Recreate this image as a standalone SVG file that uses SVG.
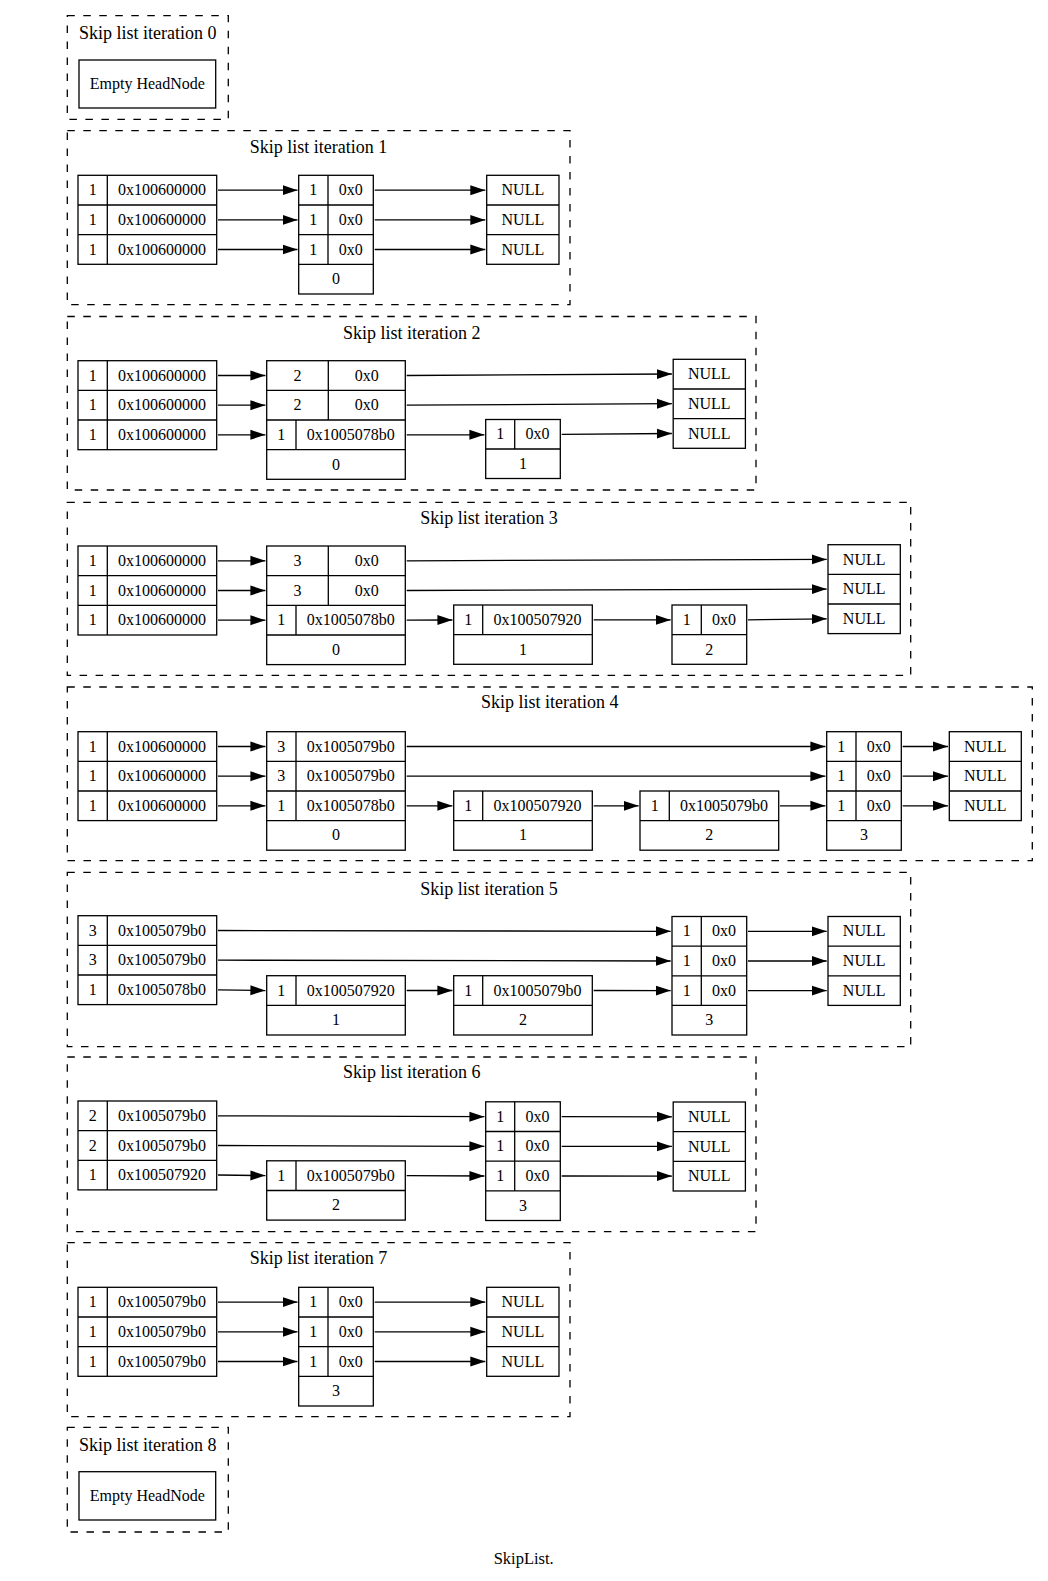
<svg xmlns="http://www.w3.org/2000/svg" width="1048" height="1581" viewBox="0 0 1048 1581">
<style>
.c{fill:none;stroke:#000;stroke-width:1.3;stroke-dasharray:7.5,8.5}
.b{fill:#fff;stroke:#000;stroke-width:1.3}
.s{fill:none;stroke:#000;stroke-width:1.3}
text{font-family:"Liberation Serif","Times New Roman",serif;font-size:16px;text-anchor:middle;fill:#000}
.l{font-size:18px}
.e{fill:none;stroke:#000;stroke-width:1.3;marker-end:url(#ah)}
</style>
<defs>
<marker id="ah" markerUnits="userSpaceOnUse" markerWidth="16" markerHeight="11" refX="15" refY="5.5" orient="auto" viewBox="0 0 16 11"><path d="M0,0.5L15,5.5L0,10.5Z" fill="#000"/></marker>
</defs>
<rect width="1048" height="1581" fill="#fff"/>

<!-- Clusters -->
<g id="cluster0"><rect class="c" x="67.3" y="15.7" width="161" height="103.6"/><text class="l" x="147.8" y="39.3">Skip list iteration 0</text></g>
<g id="cluster1"><rect class="c" x="67.3" y="130.7" width="502.7" height="174"/><text class="l" x="318.6" y="152.7">Skip list iteration 1</text></g>
<g id="cluster2"><rect class="c" x="67.3" y="316.5" width="688.7" height="173.5"/><text class="l" x="411.7" y="338.5">Skip list iteration 2</text></g>
<g id="cluster3"><rect class="c" x="67.3" y="502.3" width="843.4" height="173"/><text class="l" x="489" y="524.3">Skip list iteration 3</text></g>
<g id="cluster4"><rect class="c" x="67.3" y="687" width="965" height="173.7"/><text class="l" x="549.8" y="708.3">Skip list iteration 4</text></g>
<g id="cluster5"><rect class="c" x="67.3" y="872.3" width="843.4" height="174.4"/><text class="l" x="489" y="895">Skip list iteration 5</text></g>
<g id="cluster6"><rect class="c" x="67.3" y="1057" width="688.7" height="174.7"/><text class="l" x="411.7" y="1078.3">Skip list iteration 6</text></g>
<g id="cluster7"><rect class="c" x="67.3" y="1242.7" width="502.7" height="174"/><text class="l" x="318.6" y="1264.3">Skip list iteration 7</text></g>
<g id="cluster8"><rect class="c" x="67.3" y="1427.3" width="161" height="104.7"/><text class="l" x="147.8" y="1450.7">Skip list iteration 8</text></g>

<!-- Iteration 0 -->
<g id="it0_head"><rect class="b" x="79" y="60" width="136.7" height="48"/><text x="147.3" y="89">Empty HeadNode</text></g>

<!-- Iteration 1 -->
<g id="it1_head"><rect class="b" x="78" y="175.3" width="138.7" height="89"/><path class="s" d="M78,205H216.7M78,234.7H216.7M107.3,175.3V264.3"/>
<text x="92.7" y="195.2">1</text><text x="162" y="195.2">0x100600000</text>
<text x="92.7" y="224.9">1</text><text x="162" y="224.9">0x100600000</text>
<text x="92.7" y="254.5">1</text><text x="162" y="254.5">0x100600000</text></g>
<g id="it1_n0"><rect class="b" x="298.7" y="175.3" width="74.6" height="118.7"/><path class="s" d="M298.7,205H373.3M298.7,234.7H373.3M298.7,264.3H373.3M328,175.3V264.3"/>
<text x="313.3" y="195.2">1</text><text x="350.7" y="195.2">0x0</text>
<text x="313.3" y="224.9">1</text><text x="350.7" y="224.9">0x0</text>
<text x="313.3" y="254.5">1</text><text x="350.7" y="254.5">0x0</text>
<text x="336" y="284.2">0</text></g>
<g id="it1_null"><rect class="b" x="486.7" y="175.3" width="72.3" height="89"/><path class="s" d="M486.7,205H559M486.7,234.7H559"/>
<text x="522.9" y="195.2">NULL</text><text x="522.9" y="224.9">NULL</text><text x="522.9" y="254.5">NULL</text></g>

<!-- Iteration 2 -->
<g id="it2_head"><rect class="b" x="78" y="360.7" width="138.7" height="89"/><path class="s" d="M78,390.3H216.7M78,420H216.7M107.3,360.7V449.7"/>
<text x="92.7" y="380.5">1</text><text x="162" y="380.5">0x100600000</text>
<text x="92.7" y="410.2">1</text><text x="162" y="410.2">0x100600000</text>
<text x="92.7" y="439.9">1</text><text x="162" y="439.9">0x100600000</text></g>
<g id="it2_n0"><rect class="b" x="266.7" y="360.7" width="138.6" height="118.6"/><path class="s" d="M266.7,390.3H405.3M266.7,420H405.3M266.7,449.7H405.3M328.3,360.7V420M296,420V449.7"/>
<text x="297.5" y="380.5">2</text><text x="366.8" y="380.5">0x0</text>
<text x="297.5" y="410.2">2</text><text x="366.8" y="410.2">0x0</text>
<text x="281.3" y="439.9">1</text><text x="350.7" y="439.9">0x1005078b0</text>
<text x="336" y="469.5">0</text></g>
<g id="it2_n1"><rect class="b" x="485.7" y="419.5" width="74.6" height="59"/><path class="s" d="M485.7,449H560.3M514.7,419.5V449"/>
<text x="500.2" y="439.3">1</text><text x="537.5" y="439.3">0x0</text>
<text x="523" y="468.8">1</text></g>
<g id="it2_null"><rect class="b" x="673.2" y="359.3" width="72.2" height="89"/><path class="s" d="M673.2,389H745.4M673.2,418.7H745.4"/>
<text x="709.3" y="379.2">NULL</text><text x="709.3" y="408.9">NULL</text><text x="709.3" y="438.5">NULL</text></g>

<!-- Iteration 3 -->
<g id="it3_head"><rect class="b" x="78" y="546" width="138.7" height="89"/><path class="s" d="M78,575.7H216.7M78,605.3H216.7M107.3,546V635"/>
<text x="92.7" y="565.9">1</text><text x="162" y="565.9">0x100600000</text>
<text x="92.7" y="595.5">1</text><text x="162" y="595.5">0x100600000</text>
<text x="92.7" y="625.2">1</text><text x="162" y="625.2">0x100600000</text></g>
<g id="it3_n0"><rect class="b" x="266.7" y="546" width="138.6" height="118.6"/><path class="s" d="M266.7,575.7H405.3M266.7,605.3H405.3M266.7,635H405.3M328.3,546V605.3M296,605.3V635"/>
<text x="297.5" y="565.9">3</text><text x="366.8" y="565.9">0x0</text>
<text x="297.5" y="595.5">3</text><text x="366.8" y="595.5">0x0</text>
<text x="281.3" y="625.2">1</text><text x="350.7" y="625.2">0x1005078b0</text>
<text x="336" y="654.8">0</text></g>
<g id="it3_n1"><rect class="b" x="453.7" y="605" width="138.6" height="59.3"/><path class="s" d="M453.7,634.7H592.3M482.7,605V634.7"/>
<text x="468.2" y="624.9">1</text><text x="537.5" y="624.9">0x100507920</text>
<text x="523" y="654.5">1</text></g>
<g id="it3_n2"><rect class="b" x="672" y="605" width="74.7" height="59.3"/><path class="s" d="M672,634.7H746.7M701.3,605V634.7"/>
<text x="686.7" y="624.9">1</text><text x="724" y="624.9">0x0</text>
<text x="709.3" y="654.5">2</text></g>
<g id="it3_null"><rect class="b" x="828" y="544.7" width="72.3" height="88.9"/><path class="s" d="M828,574.3H900.3M828,604H900.3"/>
<text x="864.2" y="564.5">NULL</text><text x="864.2" y="594.2">NULL</text><text x="864.2" y="623.8">NULL</text></g>

<!-- Iteration 4 -->
<g id="it4_head"><rect class="b" x="78" y="731.7" width="138.7" height="88.9"/><path class="s" d="M78,761.3H216.7M78,791H216.7M107.3,731.7V820.6"/>
<text x="92.7" y="751.5">1</text><text x="162" y="751.5">0x100600000</text>
<text x="92.7" y="781.2">1</text><text x="162" y="781.2">0x100600000</text>
<text x="92.7" y="810.8">1</text><text x="162" y="810.8">0x100600000</text></g>
<g id="it4_n0"><rect class="b" x="266.7" y="731.7" width="138.6" height="118.5"/><path class="s" d="M266.7,761.3H405.3M266.7,791H405.3M266.7,820.6H405.3M296,731.7V820.6"/>
<text x="281.3" y="751.5">3</text><text x="350.7" y="751.5">0x1005079b0</text>
<text x="281.3" y="781.2">3</text><text x="350.7" y="781.2">0x1005079b0</text>
<text x="281.3" y="810.8">1</text><text x="350.7" y="810.8">0x1005078b0</text>
<text x="336" y="840.4">0</text></g>
<g id="it4_n1"><rect class="b" x="453.7" y="791" width="138.6" height="59.2"/><path class="s" d="M453.7,820.6H592.3M482.7,791V820.6"/>
<text x="468.2" y="810.8">1</text><text x="537.5" y="810.8">0x100507920</text>
<text x="523" y="840.4">1</text></g>
<g id="it4_n2"><rect class="b" x="640" y="791" width="138.7" height="59.2"/><path class="s" d="M640,820.6H778.7M669.3,791V820.6"/>
<text x="654.7" y="810.8">1</text><text x="724" y="810.8">0x1005079b0</text>
<text x="709.3" y="840.4">2</text></g>
<g id="it4_n3"><rect class="b" x="826.7" y="731.7" width="74.6" height="118.5"/><path class="s" d="M826.7,761.3H901.3M826.7,791H901.3M826.7,820.6H901.3M856,731.7V820.6"/>
<text x="841.3" y="751.5">1</text><text x="878.7" y="751.5">0x0</text>
<text x="841.3" y="781.2">1</text><text x="878.7" y="781.2">0x0</text>
<text x="841.3" y="810.8">1</text><text x="878.7" y="810.8">0x0</text>
<text x="864" y="840.4">3</text></g>
<g id="it4_null"><rect class="b" x="949.3" y="731.7" width="72" height="88.9"/><path class="s" d="M949.3,761.3H1021.3M949.3,791H1021.3"/>
<text x="985.3" y="751.5">NULL</text><text x="985.3" y="781.2">NULL</text><text x="985.3" y="810.8">NULL</text></g>

<!-- Iteration 5 -->
<g id="it5_head"><rect class="b" x="78" y="915.7" width="138.7" height="88.9"/><path class="s" d="M78,945.3H216.7M78,975H216.7M107.3,915.7V1004.6"/>
<text x="92.7" y="935.5">3</text><text x="162" y="935.5">0x1005079b0</text>
<text x="92.7" y="965.2">3</text><text x="162" y="965.2">0x1005079b0</text>
<text x="92.7" y="994.8">1</text><text x="162" y="994.8">0x1005078b0</text></g>
<g id="it5_n1"><rect class="b" x="266.7" y="975.7" width="138.6" height="59.3"/><path class="s" d="M266.7,1005.3H405.3M296,975.7V1005.3"/>
<text x="281.3" y="995.5">1</text><text x="350.7" y="995.5">0x100507920</text>
<text x="336" y="1025.2">1</text></g>
<g id="it5_n2"><rect class="b" x="453.7" y="975.7" width="138.6" height="59.3"/><path class="s" d="M453.7,1005.3H592.3M482.7,975.7V1005.3"/>
<text x="468.2" y="995.5">1</text><text x="537.5" y="995.5">0x1005079b0</text>
<text x="523" y="1025.2">2</text></g>
<g id="it5_n3"><rect class="b" x="672" y="916.5" width="74.7" height="118.5"/><path class="s" d="M672,946.1H746.7M672,975.8H746.7M672,1005.4H746.7M701.3,916.5V1005.4"/>
<text x="686.7" y="936.3">1</text><text x="724" y="936.3">0x0</text>
<text x="686.7" y="966">1</text><text x="724" y="966">0x0</text>
<text x="686.7" y="995.6">1</text><text x="724" y="995.6">0x0</text>
<text x="709.3" y="1025.2">3</text></g>
<g id="it5_null"><rect class="b" x="828" y="916.5" width="72.3" height="88.9"/><path class="s" d="M828,946.1H900.3M828,975.8H900.3"/>
<text x="864.2" y="936.3">NULL</text><text x="864.2" y="966">NULL</text><text x="864.2" y="995.6">NULL</text></g>

<!-- Iteration 6 -->
<g id="it6_head"><rect class="b" x="78" y="1101" width="138.7" height="88.9"/><path class="s" d="M78,1130.6H216.7M78,1160.3H216.7M107.3,1101V1189.9"/>
<text x="92.7" y="1120.8">2</text><text x="162" y="1120.8">0x1005079b0</text>
<text x="92.7" y="1150.5">2</text><text x="162" y="1150.5">0x1005079b0</text>
<text x="92.7" y="1180.1">1</text><text x="162" y="1180.1">0x100507920</text></g>
<g id="it6_n1"><rect class="b" x="266.7" y="1160.8" width="138.6" height="59.3"/><path class="s" d="M266.7,1190.5H405.3M296,1160.8V1190.5"/>
<text x="281.3" y="1180.7">1</text><text x="350.7" y="1180.7">0x1005079b0</text>
<text x="336" y="1210.3">2</text></g>
<g id="it6_n2"><rect class="b" x="485.7" y="1101.8" width="74.6" height="118.7"/><path class="s" d="M485.7,1131.5H560.3M485.7,1161.2H560.3M485.7,1190.9H560.3M514.7,1101.8V1190.9"/>
<text x="500.2" y="1121.7">1</text><text x="537.5" y="1121.7">0x0</text>
<text x="500.2" y="1151.4">1</text><text x="537.5" y="1151.4">0x0</text>
<text x="500.2" y="1181">1</text><text x="537.5" y="1181">0x0</text>
<text x="523" y="1210.7">3</text></g>
<g id="it6_null"><rect class="b" x="673.2" y="1102" width="72.2" height="89"/><path class="s" d="M673.2,1131.7H745.4M673.2,1161.3H745.4"/>
<text x="709.3" y="1121.9">NULL</text><text x="709.3" y="1151.5">NULL</text><text x="709.3" y="1181.2">NULL</text></g>

<!-- Iteration 7 -->
<g id="it7_head"><rect class="b" x="78" y="1287.3" width="138.7" height="89"/><path class="s" d="M78,1317H216.7M78,1346.7H216.7M107.3,1287.3V1376.3"/>
<text x="92.7" y="1307.2">1</text><text x="162" y="1307.2">0x1005079b0</text>
<text x="92.7" y="1336.9">1</text><text x="162" y="1336.9">0x1005079b0</text>
<text x="92.7" y="1366.5">1</text><text x="162" y="1366.5">0x1005079b0</text></g>
<g id="it7_n3"><rect class="b" x="298.7" y="1287.3" width="74.6" height="118.7"/><path class="s" d="M298.7,1317H373.3M298.7,1346.7H373.3M298.7,1376.3H373.3M328,1287.3V1376.3"/>
<text x="313.3" y="1307.2">1</text><text x="350.7" y="1307.2">0x0</text>
<text x="313.3" y="1336.9">1</text><text x="350.7" y="1336.9">0x0</text>
<text x="313.3" y="1366.5">1</text><text x="350.7" y="1366.5">0x0</text>
<text x="336" y="1396.2">3</text></g>
<g id="it7_null"><rect class="b" x="486.7" y="1287.3" width="72.3" height="89"/><path class="s" d="M486.7,1317H559M486.7,1346.7H559"/>
<text x="522.9" y="1307.2">NULL</text><text x="522.9" y="1336.9">NULL</text><text x="522.9" y="1366.5">NULL</text></g>

<!-- Iteration 8 -->
<g id="it8_head"><rect class="b" x="79" y="1471.7" width="136.7" height="48.3"/><text x="147.3" y="1500.7">Empty HeadNode</text></g>

<!-- Connectors -->
<g id="edges">
<path class="e" d="M218,190.2L297.5,190.2"/>
<path class="e" d="M218,219.9L297.5,219.9"/>
<path class="e" d="M218,249.5L297.5,249.5"/>
<path class="e" d="M374.7,190.2L485.3,190.2"/>
<path class="e" d="M374.7,219.9L485.3,219.9"/>
<path class="e" d="M374.7,249.5L485.3,249.5"/>

<path class="e" d="M218,375.5L265.4,375.5"/>
<path class="e" d="M218,405.2L265.4,405.2"/>
<path class="e" d="M218,434.8L265.4,434.8"/>
<path class="e" d="M406.7,375.5L671.9,374"/>
<path class="e" d="M406.7,405.2L671.9,403.7"/>
<path class="e" d="M406.7,434.8L484.4,434.8"/>
<path class="e" d="M561.7,434.3L671.9,433.5"/>

<path class="e" d="M218,560.8L265.4,560.8"/>
<path class="e" d="M218,590.5L265.4,590.5"/>
<path class="e" d="M218,620.2L265.4,620.2"/>
<path class="e" d="M406.7,560.8L826.7,559.4"/>
<path class="e" d="M406.7,590.5L826.7,589.1"/>
<path class="e" d="M406.7,620.2L452.4,620"/>
<path class="e" d="M593.7,619.9L670.7,619.9"/>
<path class="e" d="M748,619.8L826.7,618.8"/>

<path class="e" d="M218,746.5L265.4,746.5"/>
<path class="e" d="M218,776.2L265.4,776.2"/>
<path class="e" d="M218,805.8L265.4,805.8"/>
<path class="e" d="M406.7,746.5L825.4,746.5"/>
<path class="e" d="M406.7,776.2L825.4,776.2"/>
<path class="e" d="M406.7,805.8L452.4,805.8"/>
<path class="e" d="M593.7,805.8L638.7,805.8"/>
<path class="e" d="M780,805.8L825.4,805.8"/>
<path class="e" d="M902.7,746.5L948,746.5"/>
<path class="e" d="M902.7,776.2L948,776.2"/>
<path class="e" d="M902.7,805.8L948,805.8"/>

<path class="e" d="M218,930.5L670.7,931.3"/>
<path class="e" d="M218,960.2L670.7,961"/>
<path class="e" d="M218,989.8L265.4,990.5"/>
<path class="e" d="M406.7,990.5L452.4,990.5"/>
<path class="e" d="M593.7,990.5L670.7,990.6"/>
<path class="e" d="M748,931.3L826.7,931.3"/>
<path class="e" d="M748,961L826.7,961"/>
<path class="e" d="M748,990.6L826.7,990.6"/>

<path class="e" d="M218,1115.8L484.4,1116.7"/>
<path class="e" d="M218,1145.5L484.4,1146.3"/>
<path class="e" d="M218,1175L265.4,1175.6"/>
<path class="e" d="M406.7,1175.6L484.4,1176"/>
<path class="e" d="M561.7,1116.7L671.9,1116.8"/>
<path class="e" d="M561.7,1146.3L671.9,1146.4"/>
<path class="e" d="M561.7,1176L671.9,1176.1"/>

<path class="e" d="M218,1302.1L297.5,1302.1"/>
<path class="e" d="M218,1331.8L297.5,1331.8"/>
<path class="e" d="M218,1361.5L297.5,1361.5"/>
<path class="e" d="M374.7,1302.1L485.3,1302.1"/>
<path class="e" d="M374.7,1331.8L485.3,1331.8"/>
<path class="e" d="M374.7,1361.5L485.3,1361.5"/>
</g>

<text id="title" x="523.7" y="1564.3" style="font-size:16.5px">SkipList.</text>
</svg>
